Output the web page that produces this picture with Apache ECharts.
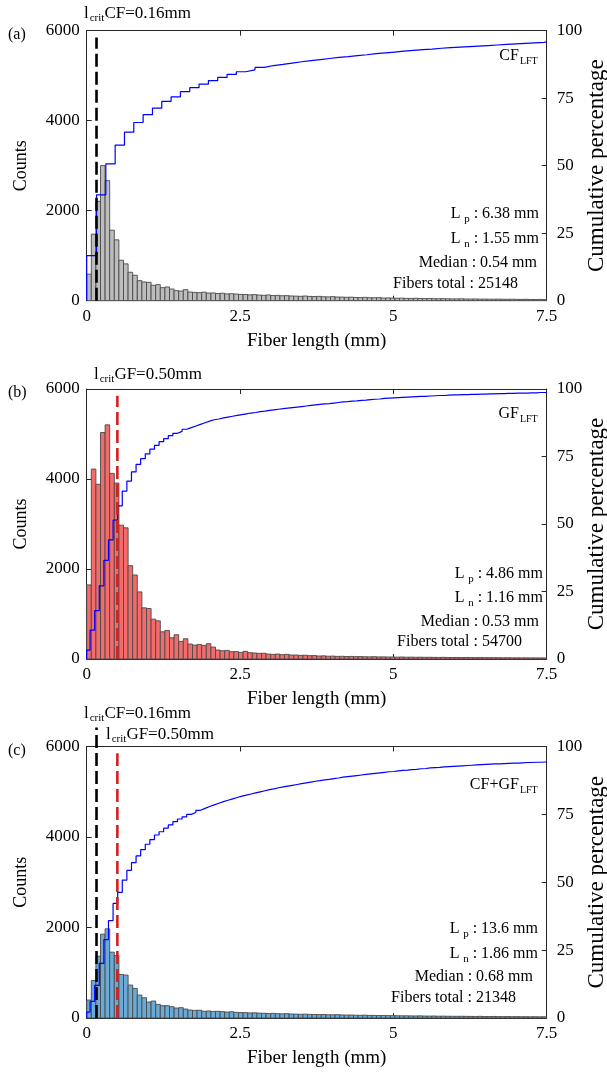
<!DOCTYPE html>
<html><head><meta charset="utf-8">
<script src="https://cdn.jsdelivr.net/npm/echarts@6/dist/echarts.min.js"></script>
<style>html,body{margin:0;padding:0;background:#fff}#c{width:607px;height:1074px}</style>
</head><body><div id="c"></div>
<script>
// ---------------- data ----------------
const BIN_WIDTH = 0.075;           // mm, histogram bin width
const X_TICKS = [0, 2.5, 5, 7.5];
const countsA = [590,1479,2208,3003,2668,1568,1353,899,818,632,565,446,416,408,342,357,290,305,260,223,215,245,193,
185,178,190,170,172,160,165,150,155,148,140,
138,130,135,125,120,128,115,118,110,112,105,
102,98,104,95,92,96,88,85,90,82,80,
76,78,72,70,74,66,65,68,60,62,58,
55,57,52,50,54,48,47,50,45,44,46,42,41,
40,42,38,37,39,35,36,34,33,35,32,31,33,30,29,31,28,27,29,26];
const countsB = [1646,4221,3882,5033,5203,4125,3911,2974,2915,2074,1867,1491,1137,1122,886,849,605,635,472,539,391,450,332,
309,324,302,340,265,199,184,191,162,165,147,
170,140,133,125,128,110,103,110,96,103,88,
88,81,84,74,76,66,70,62,64,58,60,
55,57,52,54,50,48,51,46,47,44,45,
42,44,40,41,38,40,37,38,36,35,37,34,33,
34,32,33,31,30,32,29,30,28,29,27,28,26,27,25,26,24,25,23,24];
const countsC = [397,831,1367,1852,1970,1455,1382,963,948,728,654,507,448,353,375,301,272,272,250,220,228,198,176,
168,172,150,155,145,148,140,132,138,125,120,
118,112,115,108,105,100,102,95,92,96,88,
86,82,85,80,78,75,77,72,70,73,68,
65,66,62,60,63,58,57,55,56,53,52,
50,48,49,46,45,47,43,42,44,40,41,39,38,
37,38,36,35,34,36,33,32,34,31,30,32,29,30,28,29,27,28,26,27];
// cumulative percentage (step values)
const CUM_A_FIRST = 0.16, CUM_A_STEP = 0.152;
const cumA = [16.7,39.2,50.7,57.6,62.4,66.0,68.9,71.3,73.8,75.5,77.4,78.9,80.2,81.5,82.7,83.8,84.8,85.5,86.4,87.1,
87.5,88.0,88.5,88.9,89.3,89.7,90.1,90.4,90.8,91.1,
91.5,91.8,92.1,92.4,92.7,93.0,93.2,93.5,93.7,93.9,
94.1,94.3,94.5,94.7,94.9,95.1,95.3,95.5,95.7,95.9];
const CUM_BC_FIRST = 0.055, CUM_BC_STEP = 0.075;
const cumB = [3.3,10.7,17.9,27.1,36.5,44.1,51.4,56.7,62.2,65.9,69.3,72.1,74.2,76.0,77.7,79.1,80.5,81.6,82.7,83.6,84.3,85.1,85.7,86.3,
86.9,87.5,88.1,88.6,88.9,89.3,89.6,89.9,90.2,90.5,90.8,91.1,91.3,91.6,91.8,92.1,
92.3,92.5,92.7,92.9,93.1,93.3,93.5,93.7,93.9,94.1,94.3,94.5,94.6,94.8,95.0,95.2,95.3,95.5,95.6,95.8,
95.9,96.1,96.2,96.3,96.5,96.6,96.7,96.8,96.9,97.0,97.1,97.2,97.3,97.3,97.4,97.5,97.6,97.6,97.7,97.8,
97.8,97.9,97.9,98.0,98.0,98.1,98.1,98.2,98.2,98.3,98.3,98.4,98.4,98.5,98.5,98.5,98.6,98.6,98.7,98.7];
const cumC = [2.2,6.1,12.0,20.1,28.9,35.9,42.2,46.3,50.8,54.4,57.2,59.7,62.0,64.0,65.7,67.4,68.6,69.9,71.1,72.3,73.3,74.1,75.0,75.7,
76.5,77.2,77.9,78.5,79.1,79.7,80.2,80.7,81.2,81.7,82.1,82.5,82.9,83.3,83.7,84.1,
84.4,84.8,85.1,85.4,85.7,86.0,86.3,86.6,86.9,87.2,87.4,87.7,87.9,88.2,88.4,88.7,88.9,89.1,89.3,89.5,
89.7,89.9,90.1,90.3,90.5,90.7,90.8,91.0,91.2,91.3,91.5,91.6,91.8,91.9,92.1,92.2,92.3,92.5,92.6,92.7,
92.8,92.9,93.0,93.1,93.2,93.3,93.4,93.5,93.6,93.6,93.7,93.8,93.9,93.9,94.0,94.1,94.1,94.2,94.2,94.3];
const L_CRIT_CF = 0.16, L_CRIT_GF = 0.50;
const panelLabels = ['(a)', '(b)', '(c)'];
const sampleNames = [['CF', 'LFT'], ['GF', 'LFT'], ['CF+GF', 'LFT']];
const statsLp = ['6.38 mm', '4.86 mm', '13.6 mm'];
const statsLn = ['1.55 mm', '1.16 mm', '1.86 mm'];
const statsMedian = ['0.54 mm', '0.53 mm', '0.68 mm'];
const statsTotal = ['25148', '54700', '21348'];

// ---------------- layout / style ----------------
const FONT = '"Liberation Serif", "Times New Roman", serif';
const AX = '#262626';
const GRID_LEFT = 86.7, GRID_RIGHT = 60.3;
const grids = [{top: 30.7, height: 270}, {top: 389, height: 270}, {top: 746.5, height: 271.5}];
const barFill = ['#bdbdbd', '#f46b6b', '#6aaad4'];
const RED = '#d42020';

function histData(counts) { return counts.map((c, i) => [i * BIN_WIDTH, (i + 1) * BIN_WIDTH, c]); }
function cumData(vals, first, step) {
  const d = [[0, 0], [0, vals[0]]];
  for (let k = 1; k < vals.length; k++) d.push([first + step * (k - 1), vals[k]]);
  d.push([7.5, vals[vals.length - 1]]);
  return d;
}
function barRenderer(fill) {
  return function (params, api) {
    const p0 = api.coord([api.value(0), api.value(2)]);
    const p1 = api.coord([api.value(1), 0]);
    return {type: 'rect', shape: {x: p0[0], y: p0[1], width: p1[0] - p0[0], height: p1[1] - p0[1]},
      style: {fill: fill, stroke: '#4a4a4a', lineWidth: 0.9}};
  };
}

const xAxes = [], yAxes = [], series = [], graphics = [];
const gridOpts = grids.map(g => ({left: GRID_LEFT, right: GRID_RIGHT, top: g.top, height: g.height,
  containLabel: false, outerBoundsMode: 'none'}));
const tickStyle = {inside: true, length: 5, lineStyle: {color: AX, width: 1}};
const lineStyleAx = {show: true, onZero: false, lineStyle: {color: AX, width: 1}};

const histAll = [countsA, countsB, countsC];
const cumAll = [cumData(cumA, CUM_A_FIRST, CUM_A_STEP), cumData(cumB, CUM_BC_FIRST, CUM_BC_STEP), cumData(cumC, CUM_BC_FIRST, CUM_BC_STEP)];

for (let i = 0; i < 3; i++) {
  xAxes.push({gridIndex: i, type: 'value', min: 0, max: 7.5, interval: 2.5, position: 'bottom',
    axisLine: lineStyleAx, axisTick: tickStyle, splitLine: {show: false},
    axisLabel: {color: '#000', fontFamily: FONT, fontSize: 17, margin: 7,
      formatter: v => (X_TICKS.indexOf(v) >= 0 ? String(v) : '')},
    name: 'Fiber length (mm)', nameLocation: 'middle', nameGap: 31,
    nameTextStyle: {color: '#000', fontFamily: FONT, fontSize: 19}});
  xAxes.push({gridIndex: i, type: 'value', min: 0, max: 7.5, interval: 2.5, position: 'top',
    axisLine: lineStyleAx, axisTick: tickStyle, splitLine: {show: false}, axisLabel: {show: false}});
  yAxes.push({gridIndex: i, type: 'value', min: 0, max: 6000, interval: 2000, position: 'left',
    axisLine: lineStyleAx, axisTick: tickStyle, splitLine: {show: false},
    axisLabel: {color: '#000', fontFamily: FONT, fontSize: 17, margin: 7, formatter: v => String(v)},
    name: 'Counts', nameLocation: 'middle', nameGap: 56,
    nameTextStyle: {color: '#000', fontFamily: FONT, fontSize: 18}});
  yAxes.push({gridIndex: i, type: 'value', min: 0, max: 100, interval: 25, position: 'right',
    axisLine: lineStyleAx, axisTick: tickStyle, splitLine: {show: false},
    axisLabel: {color: '#000', fontFamily: FONT, fontSize: 17, margin: 10, formatter: v => String(v)},
    name: 'Cumulative percentage', nameLocation: 'middle', nameGap: 39, nameMoveOverlap: false,
    nameTextStyle: {color: '#000', fontFamily: FONT, fontSize: 23}});

  series.push({type: 'custom', xAxisIndex: 2 * i, yAxisIndex: 2 * i, renderItem: barRenderer(barFill[i]),
    encode: {x: [0, 1], y: 2}, data: histData(histAll[i]), z: 2, silent: true});
  series.push({type: 'line', xAxisIndex: 2 * i, yAxisIndex: 2 * i + 1, step: 'end', showSymbol: false,
    data: cumAll[i], lineStyle: {color: '#0000ff', width: 1.2}, z: 3, silent: true});
}
// critical length dashed lines
function dashLine(panel, x, top, color) {
  series.push({type: 'line', xAxisIndex: 2 * panel, yAxisIndex: 2 * panel, clip: false, showSymbol: false,
    data: [[x, 0], [x, top]], lineStyle: {color: color, width: 2.6, type: [13, 5]}, z: 4, silent: true});
}
dashLine(0, L_CRIT_CF, 5850, '#000');
dashLine(1, L_CRIT_GF, 5850, RED);
dashLine(2, L_CRIT_CF, 6420, '#000');
dashLine(2, L_CRIT_GF, 5850, RED);

// ---------------- texts ----------------
function rich(color, size, subSize, subDrop) {
  return {
    m: {fontFamily: FONT, fontSize: size, color: color, verticalAlign: 'top', lineHeight: size + 2},
    s: {fontFamily: FONT, fontSize: subSize, color: color, verticalAlign: 'top', lineHeight: subSize, padding: [subDrop, 0, 0, 1]}
  };
}
function txt(x, y, text, richStyle, align) {
  graphics.push({type: 'text', x: x, y: y, silent: true,
    style: {text: text, rich: richStyle, align: align || 'left', verticalAlign: 'top'}});
}
const plotRight = 607 - GRID_RIGHT;
for (let i = 0; i < 3; i++) {
  const g = grids[i];
  const bottom = g.top + g.height;
  graphics.push({type: 'text', x: 8, y: g.top - 4, silent: true,
    style: {text: panelLabels[i], font: '16px ' + FONT, fill: '#000'}});
  const nameY = [48, 406, 777][i];
  txt(plotRight - 9, nameY, '{m|' + sampleNames[i][0] + '}{s|' + sampleNames[i][1] + '}', rich('#000', 16, 10, 8), 'right');
  const rs = rich('#000', 16, 11, 8);
  const off = [[-95, -70, -46, -25], [-93, -69, -45, -25], [-97, -72, -49, -28]][i];
  const rx = [[539, 539, 537, 518], [543, 543, 539, 522], [538, 538, 533, 516]][i];
  txt(rx[0], bottom + off[0], '{m|L}{s| p}{m| : ' + statsLp[i] + '}', rs, 'right');
  txt(rx[1], bottom + off[1], '{m|L}{s| n}{m| : ' + statsLn[i] + '}', rs, 'right');
  txt(rx[2], bottom + off[2], '{m|Median : ' + statsMedian[i] + '}', rs, 'right');
  txt(rx[3], bottom + off[3], '{m|Fibers total : ' + statsTotal[i] + '}', rs, 'right');
}
const rk = rich('#000', 17, 11, 8);
const rr = rich(RED, 17, 11, 8);
txt(84, 5, '{m|l}{s|crit}{m|CF=' + L_CRIT_CF.toFixed(2) + 'mm}', rk);
txt(94, 366, '{m|l}{s|crit}{m|GF=' + L_CRIT_GF.toFixed(2) + 'mm}', rr);
txt(84, 705, '{m|l}{s|crit}{m|CF=' + L_CRIT_CF.toFixed(2) + 'mm}', rk);
txt(106, 726, '{m|l}{s|crit}{m|GF=' + L_CRIT_GF.toFixed(2) + 'mm}', rr);

const chart = echarts.init(document.getElementById('c'), null, {renderer: 'canvas'});
chart.setOption({
  animation: false, backgroundColor: '#fff',
  grid: gridOpts, xAxis: xAxes, yAxis: yAxes, series: series, graphic: graphics
});
</script></body></html>
